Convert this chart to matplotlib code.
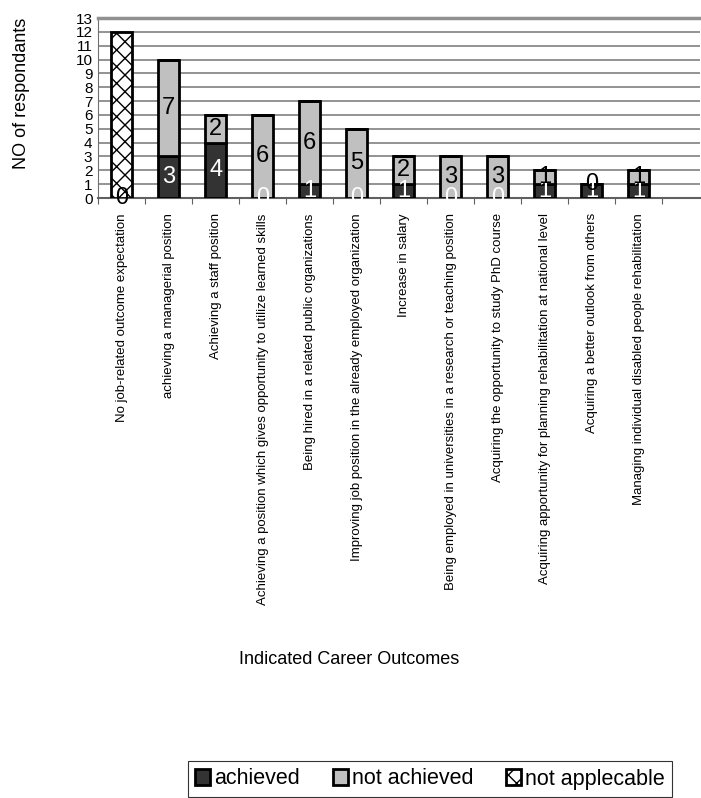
import matplotlib.pyplot as plt
import numpy as np

plt.rcParams['font.family'] = ['Liberation Sans', 'DejaVu Sans']

categories = [
    'No job-related outcome expectation',
    'achieving a managerial position',
    'Achieving a staff position',
    'Achieving a position which gives opportunity to utilize learned skills',
    'Being hired in a related public organizations',
    'Improving job position in the already employed organization',
    'Increase in salary',
    'Being employed in universities in a research or teaching position',
    'Acquiring the opportunity to study PhD course',
    'Acquiring apportunity for planning rehabilitation at national level',
    'Acquiring a better outlook from others',
    'Managing individual disabled people rehabilitation',
]
achieved = [0, 3, 4, 0, 1, 0, 1, 0, 0, 1, 1, 1]
not_achieved = [0, 7, 2, 6, 6, 5, 2, 3, 3, 1, 0, 1]
not_applicable = [12, 0, 0, 0, 0, 0, 0, 0, 0, 0, 0, 0]

fig = plt.figure(figsize=(7.01, 7.98), dpi=100)
ax = fig.add_axes([98 / 701, 1 - 198 / 798, 602 / 701, 180 / 798])

x = np.arange(len(categories))
w = 0.45
a = np.array(achieved)
n = np.array(not_achieved)
p = np.array(not_applicable)

ax.bar(x, a, w, color='#333333', edgecolor='black', linewidth=2, zorder=3, label='achieved')
ax.bar(x, n, w, bottom=a, color='#c0c0c0', edgecolor='black', linewidth=2, zorder=3, label='not achieved')
ax.bar(x, p, w, bottom=a + n, color='white', edgecolor='black', linewidth=2, hatch='xx',
       zorder=3, label='not applecable')

# segment labels
for i in range(len(categories)):
    col = 'black' if i == 0 else 'white'
    ax.text(x[i], a[i] / 2, str(a[i]), ha='center', va='center', fontsize=17, color=col, zorder=4)
    if i > 0:
        ax.text(x[i], a[i] + n[i] / 2, str(n[i]), ha='center', va='center', fontsize=17,
                color='black', zorder=4)

ax.set_xlim(-0.5, 12.3)
ax.set_ylim(0, 13)
ax.set_yticks(range(0, 14))
ax.tick_params(axis='y', labelsize=11, length=0, pad=4)
ax.yaxis.grid(True, color='#808080', linewidth=1.2, zorder=0)
ax.set_xticks(np.arange(-0.5, 12.5, 1))
ax.set_xticklabels([])
ax.tick_params(axis='x', length=4, color='#606060')
for i, c in enumerate(categories):
    ax.text(x[i], -1.1, c, rotation=90, ha='center', va='top', fontsize=9.5)

ax.spines['right'].set_visible(False)
ax.spines['top'].set_color('#909090')
ax.spines['top'].set_linewidth(2.5)
ax.spines['left'].set_color('#707070')
ax.spines['bottom'].set_color('#606060')
ax.spines['bottom'].set_linewidth(1.5)

fig.text(22 / 701, 1 - 93 / 798, 'NO of respondants', rotation=90, ha='center', va='center', fontsize=13)
fig.text(349 / 701, 1 - 660 / 798, 'Indicated Career Outcomes', ha='center', va='center', fontsize=13)

leg = fig.legend(loc='center', bbox_to_anchor=(430 / 701, 1 - 779 / 798), ncol=3, fontsize=15.5,
                 frameon=True, fancybox=False, edgecolor='black', handlelength=0.7, handleheight=0.7,
                 handletextpad=0.2, columnspacing=1.5, borderpad=0.35, borderaxespad=0)
leg.get_frame().set_linewidth(0.8)

fig.savefig('out.png', dpi=100)
